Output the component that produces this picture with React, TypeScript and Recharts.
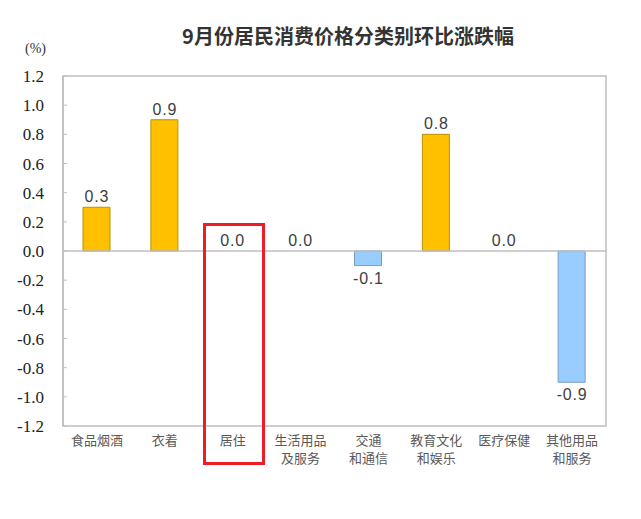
import React from 'react';
import { ComposedChart, Bar, Line, XAxis, YAxis, Cell, ReferenceLine, ReferenceArea } from 'recharts';

const categories = ['食品烟酒', '衣着', '居住', '生活用品\n及服务', '交通\n和通信', '教育文化\n和娱乐', '医疗保健', '其他用品\n和服务'];
const changes = [0.3, 0.9, 0.0, 0.0, -0.1, 0.8, 0.0, -0.9];
const yTicks = [-1.2, -1.0, -0.8, -0.6, -0.4, -0.2, 0, 0.2, 0.4, 0.6, 0.8, 1.0, 1.2];

const data = categories.map((name, i) => ({ name, value: changes[i] }));

const CJK = '"Noto Sans CJK SC", "Noto Sans", sans-serif';
const SERIF = '"Liberation Serif", "Times New Roman", serif';

const CategoryTick = (props: any) => {
  const { x, y, payload } = props;
  const lines = String(payload.value).split('\n');
  return (
    <text x={x} y={y} textAnchor="middle" fill="#595959" fontSize={13} fontFamily={CJK}>
      {lines.map((l, i) => (
        <tspan key={i} x={x} dy={i === 0 ? 11 : 18}>{l}</tspan>
      ))}
    </text>
  );
};

// y ticks: serif numbers, short tick marks pointing into the plot
const ValueTick = (props: any) => {
  const { x, y, payload } = props;
  const axisX = props.x + 21;
  return (
    <g>
      <line x1={axisX} x2={axisX + 4} y1={y} y2={y} stroke="#bfbfbf" />
      <text x={x + 2} y={y} dy={6} textAnchor="end" fill="#222" fontSize={17} fontFamily={SERIF}>
        {Number(payload.value).toFixed(1)}
      </text>
    </g>
  );
};

// labels hung on an invisible line so that 0.0 values get one too
const ValueLabel = (props: any) => {
  const { x, y, value } = props;
  const ty = value < 0 ? y + 18 : y - 5;
  return (
    <text x={x} y={ty} textAnchor="middle" fill="#404040" fontSize={16} letterSpacing={0.8} fontFamily='"Liberation Sans", Arial, sans-serif'>
      {Number(value).toFixed(1)}
    </text>
  );
};

export default function App() {
  return (
    <div style={{ position: 'absolute', left: 0, top: 0, width: 641, height: 519, background: '#fff' }}>
      <div style={{ position: 'absolute', left: 0, width: 696, top: 24, textAlign: 'center', fontFamily: CJK, fontSize: 20, fontWeight: 'bold', color: '#333', lineHeight: '24px' }}>
        9月份居民消费价格分类别环比涨跌幅
      </div>
      <div style={{ position: 'absolute', left: 25, top: 41, fontFamily: SERIF, fontSize: 14, color: '#333' }}>(%)</div>
      <ComposedChart width={641} height={519} data={data} margin={{ top: 76, right: 35, bottom: 63, left: 23 }}>
        <ReferenceArea y1={-1.2} y2={1.2} fill="none" stroke="#bfbfbf" strokeWidth={1.5} />
        <XAxis dataKey="name" interval={0} axisLine={false} tickLine={false} tick={<CategoryTick />} />
        <YAxis
          domain={[-1.2, 1.2]}
          ticks={yTicks}
          width={40}
          axisLine={{ stroke: '#bfbfbf', strokeWidth: 1.5 }}
          tickLine={false}
          tickMargin={15}
          tick={<ValueTick />}
        />
        <ReferenceLine y={0} stroke="#bfbfbf" strokeWidth={1.5} />
        <Bar dataKey="value" barSize={27} isAnimationActive={false}>
          {data.map((d, i) => (
            <Cell key={i} fill={d.value < 0 ? '#99CCFF' : '#FFC000'} stroke={d.value < 0 ? '#7a9cc0' : '#b8900a'} strokeWidth={1} />
          ))}
        </Bar>
        <Line dataKey="value" stroke="none" dot={false} activeDot={false} isAnimationActive={false} label={<ValueLabel />} />
      </ComposedChart>
      <div style={{ position: 'absolute', left: 203, top: 223, width: 56, height: 236, border: '3px solid #ee1c25' }} />
    </div>
  );
}
